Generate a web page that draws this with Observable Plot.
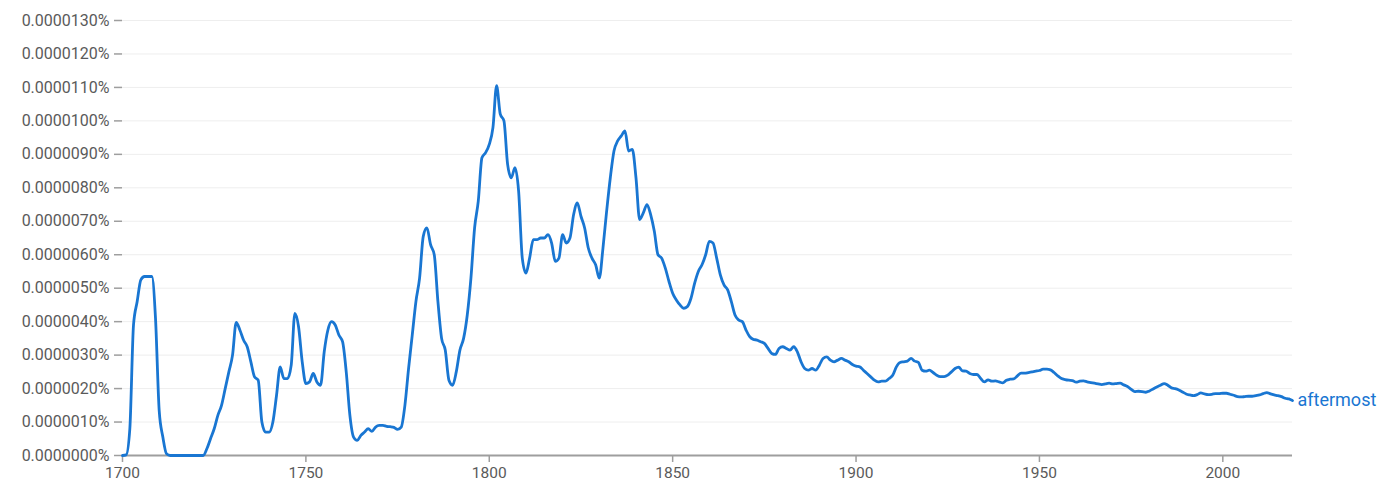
<!DOCTYPE html>
<html>
<head>
<meta charset="utf-8">
<script src="https://cdn.jsdelivr.net/npm/d3@7"></script>
<script src="https://cdn.jsdelivr.net/npm/@observablehq/plot@0.6"></script>
<style>
  html, body { margin: 0; padding: 0; background: #fff; }
  #chart { width: 1396px; height: 492px; }
</style>
</head>
<body>
<div id="chart"></div>
<script>
// Series: "aftermost", yearly values in millionths of a percent (1 = 0.0000010%)
const seriesName = "aftermost";
const startYear = 1700;
const values = [
  // 1700-1709
  0, 0.02, 0.8, 3.9, 4.6, 5.25, 5.35, 5.35, 5.35, 4.1,
  // 1710-1719
  1.35, 0.55, 0.05, 0, 0, 0, 0, 0, 0, 0,
  // 1720-1729
  0, 0, 0, 0.2, 0.5, 0.8, 1.2, 1.5, 2.0, 2.5,
  // 1730-1739
  3.0, 3.98, 3.75, 3.45, 3.25, 2.8, 2.35, 2.25, 1.0, 0.7,
  // 1740-1749
  0.7, 1.0, 1.8, 2.65, 2.3, 2.3, 2.7, 4.25, 3.85, 2.8,
  // 1750-1759
  2.15, 2.2, 2.45, 2.2, 2.1, 3.1, 3.75, 4.0, 3.9, 3.6,
  // 1760-1769
  3.4, 2.5, 1.2, 0.55, 0.45, 0.6, 0.7, 0.8, 0.72, 0.85,
  // 1770-1779
  0.9, 0.9, 0.87, 0.86, 0.84, 0.78, 0.85, 1.5, 2.6, 3.6,
  // 1780-1789
  4.6, 5.3, 6.55, 6.8, 6.3, 6.0, 4.6, 3.5, 3.15, 2.25,
  // 1790-1799
  2.1, 2.5, 3.15, 3.5, 4.2, 5.3, 6.8, 7.6, 8.9, 9.05,
  // 1800-1809
  9.3, 9.8, 11.05, 10.2, 10.0, 8.7, 8.3, 8.6, 7.9, 5.9,
  // 1810-1819
  5.45, 5.9, 6.45, 6.45, 6.5, 6.5, 6.6, 6.35, 5.8, 5.9,
  // 1820-1829
  6.6, 6.35, 6.5, 7.2, 7.55, 7.15, 6.8, 6.2, 5.9, 5.7,
  // 1830-1839
  5.3, 6.2, 7.3, 8.3, 9.1, 9.4, 9.55, 9.7, 9.1, 9.15,
  // 1840-1849
  8.3, 7.05, 7.25, 7.5, 7.2, 6.7, 6.0, 5.9, 5.6, 5.2,
  // 1850-1859
  4.85, 4.65, 4.5, 4.4, 4.45, 4.7, 5.15, 5.5, 5.7, 6.0,
  // 1860-1869
  6.4, 6.35, 5.9, 5.4, 5.1, 4.95, 4.6, 4.2, 4.05, 4.0,
  // 1870-1879
  3.75, 3.55, 3.47, 3.45, 3.4, 3.35, 3.2, 3.05, 3.02, 3.2,
  // 1880-1889
  3.25, 3.2, 3.15, 3.25, 3.1, 2.8, 2.6, 2.55, 2.6, 2.55,
  // 1890-1899
  2.7, 2.9, 2.95, 2.85, 2.8, 2.85, 2.9, 2.85, 2.8, 2.72,
  // 1900-1909
  2.67, 2.65, 2.55, 2.45, 2.35, 2.25, 2.2, 2.22, 2.22, 2.3,
  // 1910-1919
  2.4, 2.65, 2.78, 2.8, 2.82, 2.9, 2.82, 2.78, 2.55, 2.52,
  // 1920-1929
  2.55, 2.48, 2.4, 2.36, 2.36, 2.4, 2.5, 2.6, 2.64, 2.53,
  // 1930-1939
  2.52, 2.45, 2.42, 2.42, 2.3, 2.2, 2.26, 2.22, 2.23, 2.2,
  // 1940-1949
  2.17, 2.25, 2.28, 2.29, 2.38, 2.46, 2.46, 2.48, 2.5, 2.52,
  // 1950-1959
  2.54, 2.58, 2.58, 2.56, 2.48, 2.38, 2.3, 2.27, 2.25, 2.24,
  // 1960-1969
  2.19, 2.22, 2.23, 2.2, 2.18, 2.16, 2.14, 2.12, 2.14, 2.16,
  // 1970-1979
  2.14, 2.15, 2.16, 2.11, 2.06, 1.98, 1.91, 1.92, 1.91, 1.89,
  // 1980-1989
  1.93, 1.99, 2.05, 2.1, 2.15, 2.1, 2.02, 2.0, 1.96, 1.9,
  // 1990-1999
  1.84, 1.81, 1.79, 1.82, 1.87, 1.84, 1.82, 1.83, 1.85, 1.85,
  // 2000-2009
  1.86, 1.86, 1.83, 1.8, 1.76, 1.75, 1.76, 1.77, 1.77, 1.79,
  // 2010-2019
  1.81, 1.85, 1.88, 1.84, 1.81, 1.79, 1.76, 1.71, 1.69, 1.64
];
const years = values.map((_, i) => startYear + i);
const xTicks = [1700, 1750, 1800, 1850, 1900, 1950, 2000];
const yTicks = [0, 1, 2, 3, 4, 5, 6, 7, 8, 9, 10, 11, 12, 13];

const data = years.map((year, i) => ({ year, value: values[i] }));
const last = data[data.length - 1];

const lineColor = "#1976d2";
const textColor = "#5a5a5a";
const axisColor = "#9e9e9e";

const fmtY = d => (d / 1e6).toFixed(7) + "%";

const chart = Plot.plot({
  width: 1396,
  height: 492,
  marginLeft: 122,
  marginRight: 104,
  marginTop: 20,
  marginBottom: 37,
  style: { fontFamily: "Roboto, 'Noto Sans', sans-serif", background: "#fff", overflow: "visible" },
  x: { domain: [1700, 2019] },
  y: { domain: [0, 13] },
  marks: [
    Plot.gridY(yTicks, { stroke: "#eeeeee", strokeOpacity: 1, strokeWidth: 1 }),
    Plot.axisY(yTicks, {
      tickFormat: fmtY, tickSize: 8, tickPadding: 5,
      stroke: axisColor, strokeWidth: 1.5, fill: textColor, fontSize: 16, label: null
    }),
    Plot.ruleY([0], { stroke: axisColor, strokeWidth: 2 }),
    Plot.axisX(xTicks, {
      tickFormat: d => String(d), tickSize: 7, tickPadding: 4,
      stroke: axisColor, strokeWidth: 1.5, fill: textColor, fontSize: 15.5, label: null
    }),
    Plot.line(data, { x: "year", y: "value", stroke: lineColor, strokeWidth: 2.8, curve: "monotone-x" }),
    Plot.text([last], {
      x: "year", y: "value", text: () => seriesName, textAnchor: "start", dx: 5, dy: 0,
      fill: lineColor, fontSize: 18
    })
  ]
});
document.getElementById("chart").appendChild(chart);
</script>
</body>
</html>
